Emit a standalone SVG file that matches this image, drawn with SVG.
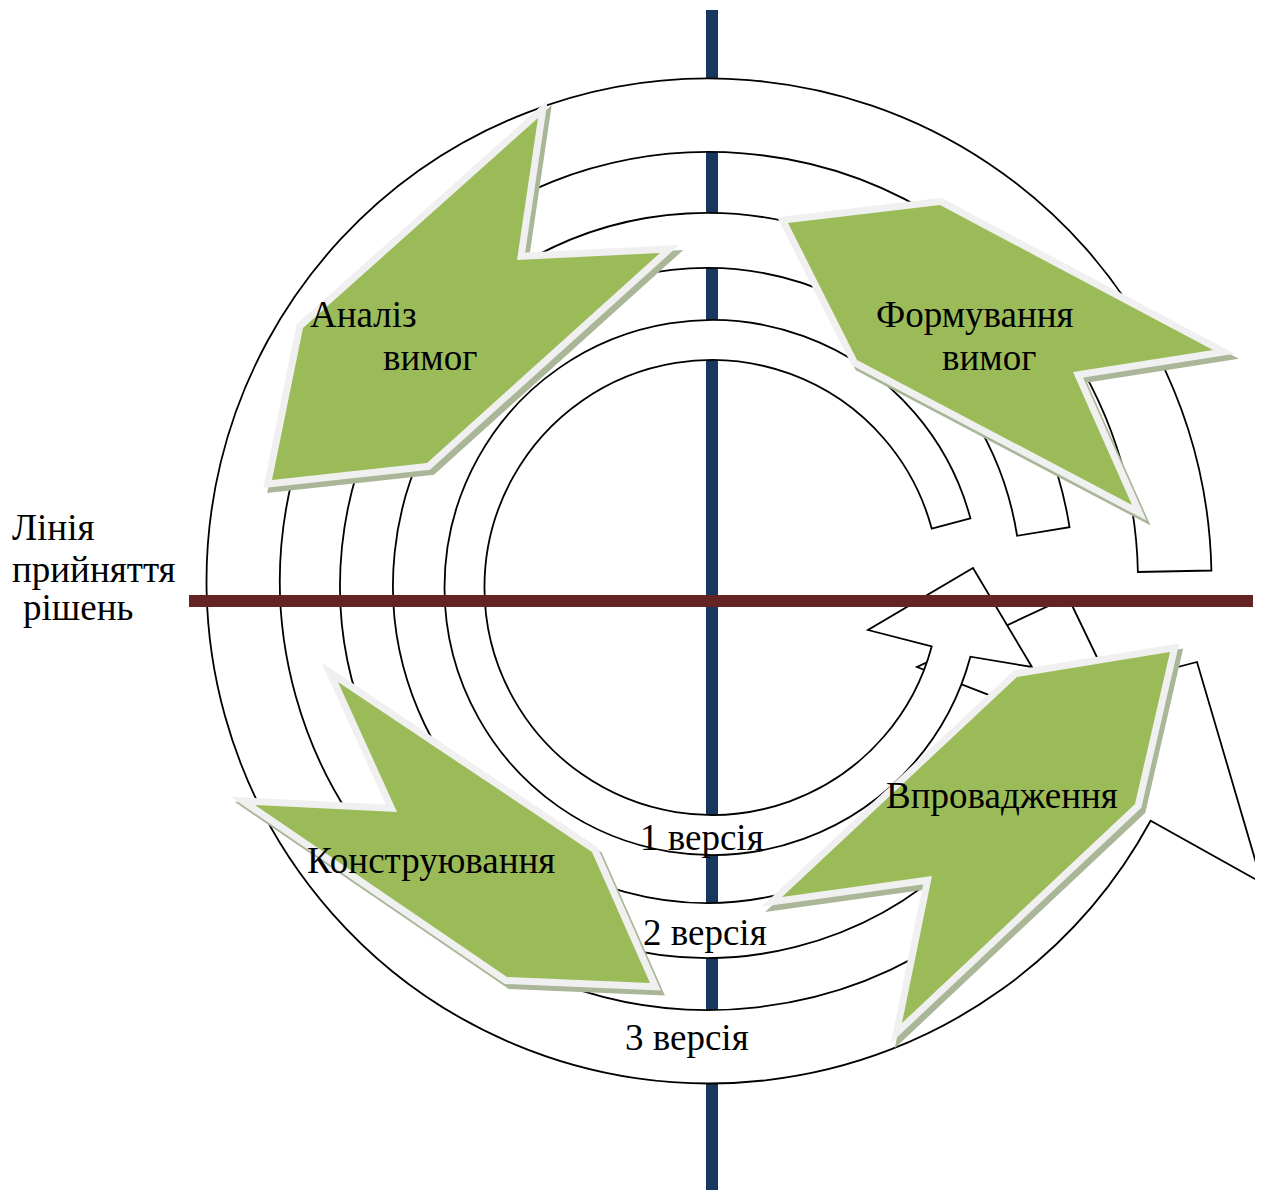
<svg xmlns="http://www.w3.org/2000/svg" width="1262" height="1191" viewBox="0 0 1262 1191">
  <style>
    .band { fill: #ffffff; stroke: #000000; stroke-width: 1.8; stroke-linejoin: miter; }
    .axis-v { fill: #17375E; }
    .axis-h { fill: #632423; }
    .chev-shadow { fill: #A9B698; stroke: #A9B698; stroke-width: 14; stroke-linejoin: miter; }
    .chev-rim { fill: #F2F2F2; stroke: #F0F0F0; stroke-width: 14; stroke-linejoin: miter; }
    .chev-body { fill: #9BBB59; stroke: none; }
    .lbl { font-family: "Liberation Serif", "Times New Roman", serif; font-size: 37px; fill: #000000; }
  </style>
  <defs>
    <clipPath id="page">
      <rect x="0" y="0" width="1255" height="1191"/>
    </clipPath>
    <!-- phase chevrons -->
    <polygon id="shape-analysis" points="538,118 517,260 660,253 427,463 272,480 303,328"/>
    <polygon id="shape-forming" points="788,223 940,205 1213,350 1073,372 1132,505 857,360"/>
    <polygon id="shape-building" points="338,682 397,812 255,805 507,977 650,983 592,852"/>
    <polygon id="shape-deploy" points="1017,677 1170,652 1135,804 902,1023 932,876 782,897"/>
  </defs>

  <rect width="1262" height="1191" fill="#ffffff"/>

  <!-- vertical axis -->
  <rect class="axis-v" x="706" y="10" width="12" height="1180"/>

  <!-- spiral iterations: circular arrows, outermost first -->
  <g id="connectors" clip-path="url(#page)">
    <path id="iteration-3" class="band" d="M 1211.4,570.5 A 502.5 502.5 0 1 0 1150.6,820.8 L 1262,883 L 1197,662 L 975,720 L 1086,785.7 A 429 429 0 1 1 1137.9,572 Z"/>
    <path id="iteration-2" class="band" d="M 1069.5,527.2 A 367 372.5 0 1 0 1049.6,719 L 1143,753 L 1068,597 L 917,667 L 1000.1,699.3 A 314 317.5 0 1 1 1017.1,535.8 Z"/>
    <path id="iteration-1" class="band" d="M 970.4,518.3 A 267.5 267.5 0 1 0 970.4,656.7 L 1032,667 L 973,568 L 868,630 L 931.7,646.4 A 227.5 227.5 0 1 1 931.7,528.6 Z"/>
  </g>

  <!-- decision line -->
  <rect class="axis-h" x="189" y="595" width="1064" height="12"/>

  <g id="phase-analysis">
    <use href="#shape-analysis" class="chev-shadow" transform="translate(4,5)"/>
    <use href="#shape-analysis" class="chev-rim"/>
    <use href="#shape-analysis" class="chev-body"/>
    <text class="lbl" x="310" y="327">Аналіз</text>
    <text class="lbl" x="383" y="370">вимог</text>
  </g>

  <g id="phase-forming">
    <use href="#shape-forming" class="chev-shadow" transform="translate(4,5)"/>
    <use href="#shape-forming" class="chev-rim"/>
    <use href="#shape-forming" class="chev-body"/>
    <text class="lbl" x="876" y="327">Формування</text>
    <text class="lbl" x="942" y="370">вимог</text>
  </g>

  <g id="phase-building">
    <use href="#shape-building" class="chev-shadow" transform="translate(4,5)"/>
    <use href="#shape-building" class="chev-rim"/>
    <use href="#shape-building" class="chev-body"/>
    <text class="lbl" x="307" y="873">Конструювання</text>
  </g>

  <g id="phase-deploy">
    <use href="#shape-deploy" class="chev-shadow" transform="translate(4,5)"/>
    <use href="#shape-deploy" class="chev-rim"/>
    <use href="#shape-deploy" class="chev-body"/>
    <text class="lbl" x="886" y="808">Впровадження</text>
  </g>

  <g id="version-labels">
    <text class="lbl" x="640" y="850">1 версія</text>
    <text class="lbl" x="643" y="945">2 версія</text>
    <text class="lbl" x="625" y="1050">3 версія</text>
  </g>

  <g id="decision-caption">
    <text class="lbl" x="12" y="540">Лінія</text>
    <text class="lbl" x="12" y="582">прийняття</text>
    <text class="lbl" x="23" y="620">рішень</text>
  </g>
</svg>
